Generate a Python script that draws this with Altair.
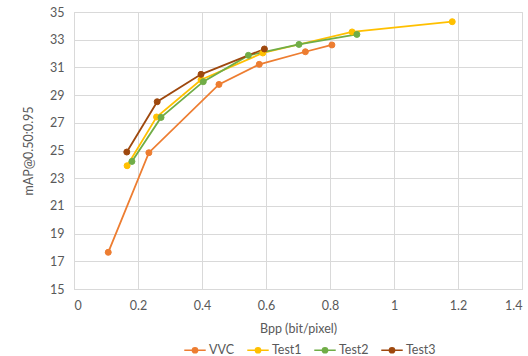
import altair as alt
import pandas as pd

series = ["VVC", "Test1", "Test2", "Test3"]
colors = ["#ED7D31", "#FFC000", "#70AD47", "#9E480E"]

vvc_x = [0.107, 0.234, 0.453, 0.579, 0.723, 0.806]
vvc_y = [17.65, 24.84, 29.77, 31.22, 32.13, 32.62]
t1_x = [0.166, 0.258, 0.397, 0.59, 0.869, 1.182]
t1_y = [23.9, 27.42, 30.11, 32.04, 33.56, 34.3]
t2_x = [0.181, 0.272, 0.404, 0.545, 0.703, 0.884]
t2_y = [24.21, 27.39, 29.97, 31.87, 32.66, 33.38]
t3_x = [0.165, 0.26, 0.397, 0.595]
t3_y = [24.89, 28.52, 30.5, 32.33]

rows = []
for name, xs, ys in [("VVC", vvc_x, vvc_y), ("Test1", t1_x, t1_y),
                     ("Test2", t2_x, t2_y), ("Test3", t3_x, t3_y)]:
    for i, (a, b) in enumerate(zip(xs, ys)):
        rows.append({"series": name, "bpp": a, "map": b, "order": i})
df = pd.DataFrame(rows)

FONT = "Lato"
scale = alt.Scale(domain=series, range=colors)
legend = alt.Legend(
    title=None,
    orient="none",
    direction="horizontal",
    legendX=109,
    legendY=326,
    symbolType="M-1,0H1M0.24,0A0.24,0.24,0,1,1,-0.24,0A0.24,0.24,0,1,1,0.24,0Z",
    symbolSize=460,
    symbolStrokeWidth=1.6,
    labelFont=FONT,
    labelFontSize=12.5,
    labelColor="#595959",
    columnPadding=9,
    labelOffset=2,
)

x = alt.X("bpp:Q", title="Bpp (bit/pixel)",
          scale=alt.Scale(domain=[0, 1.4], nice=False, zero=False),
          axis=alt.Axis(values=[0, 0.2, 0.4, 0.6, 0.8, 1, 1.2, 1.4],
                        labelExpr="datum.value == 0 ? '0' : format(datum.value, '.1~f')",
                        titlePadding=11))
y = alt.Y("map:Q", title="mAP@0.50:0.95",
          scale=alt.Scale(domain=[15, 35], nice=False, zero=False),
          axis=alt.Axis(values=list(range(15, 36, 2)), titlePadding=14))

base = alt.Chart(df)
lines = base.mark_line(strokeWidth=1.8).encode(
    x=x, y=y,
    stroke=alt.Stroke("series:N", scale=scale, legend=legend),
    order="order:Q")
points = base.mark_point(size=36, filled=True, opacity=1, strokeWidth=1).encode(
    x=x, y=y,
    fill=alt.Fill("series:N", scale=scale, legend=legend),
    stroke=alt.Stroke("series:N", scale=scale, legend=legend))

chart = (lines + points).properties(
    width=448, height=277,
    padding={"left": 74, "top": 12, "right": 6, "bottom": 67},
    autosize=alt.AutoSizeParams(type="none"),
).configure_view(stroke="#d9d9d9").configure_axis(
    gridColor="#d9d9d9",
    domainColor="#d9d9d9",
    ticks=False,
    labelFont=FONT,
    labelFontSize=12.5,
    labelColor="#595959",
    titleFont=FONT,
    titleFontSize=12.5,
    titleFontWeight="normal",
    titleColor="#595959",
).configure_axisX(labelPadding=10).configure_axisY(labelPadding=10)

chart.save("out.html", embed_options={"renderer": "svg", "actions": False})
